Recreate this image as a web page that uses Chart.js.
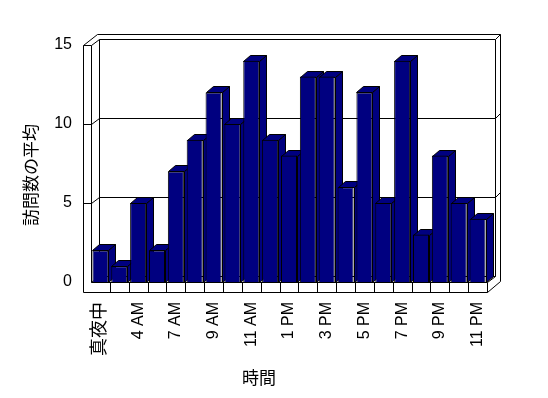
<!DOCTYPE html>
<html>
<head>
<meta charset="utf-8">
<script src="https://cdn.jsdelivr.net/npm/chart.js@4"></script>
<style>
  html, body { margin: 0; padding: 0; background: #fff; }
</style>
</head>
<body>
<canvas id="chart" width="548" height="398"></canvas>
<script>
const hours = ["真夜中", "2 AM", "4 AM", "6 AM", "7 AM", "8 AM", "9 AM", "10 AM", "11 AM", "正午",
  "1 PM", "2 PM", "3 PM", "4 PM", "5 PM", "6 PM", "7 PM", "8 PM", "9 PM", "10 PM", "11 PM"];
const visits = [2, 1, 5, 2, 7, 9, 12, 10, 14, 9, 8, 13, 13, 6, 12, 5, 14, 3, 8, 5, 4];
const yTickValues = [0, 5, 10, 15];
const xTitle = "時間";
const yTitle = "訪問数の平均";

const navy = "#000080";
const barDepth = { x: 7, y: -6 };
const backWall = { x: 8, y: -6 };
const outerWall = { x: 13, y: -11 };
const wallThick = 8;
const floorThick = 10;

function seg(ctx, x1, y1, x2, y2) {
  ctx.beginPath();
  ctx.moveTo(Math.round(x1) + 0.5, Math.round(y1) + 0.5);
  ctx.lineTo(Math.round(x2) + 0.5, Math.round(y2) + 0.5);
  ctx.stroke();
}

function poly(ctx, pts, fill) {
  ctx.beginPath();
  pts.forEach((p, i) => {
    const x = Math.round(p[0]) + 0.5, y = Math.round(p[1]) + 0.5;
    if (i === 0) ctx.moveTo(x, y); else ctx.lineTo(x, y);
  });
  ctx.closePath();
  ctx.fillStyle = fill;
  ctx.fill();
  ctx.stroke();
}

const frame3d = {
  id: "frame3d",
  beforeDatasetsDraw(chart) {
    const ctx = chart.ctx;
    const a = chart.chartArea;
    const yS = chart.scales.y;
    const L = a.left, R = a.right, T = a.top, B = a.bottom;
    ctx.save();
    ctx.strokeStyle = "#000";
    ctx.lineWidth = 1;

    // back wall (inner face + thickness)
    seg(ctx, L + backWall.x, T + backWall.y, R + backWall.x, T + backWall.y);
    seg(ctx, L - wallThick + outerWall.x + 1, T + outerWall.y, R + outerWall.x, T + outerWall.y);
    seg(ctx, R + backWall.x, T + backWall.y, R + outerWall.x, T + outerWall.y);
    seg(ctx, R + backWall.x, T + backWall.y, R + backWall.x, B + backWall.y);
    seg(ctx, R + outerWall.x, T + outerWall.y, R + outerWall.x, B + floorThick + outerWall.y);
    seg(ctx, L + backWall.x, B + backWall.y, R + backWall.x, B + backWall.y);

    // left wall
    seg(ctx, L - wallThick, T, L - wallThick, B + floorThick);
    seg(ctx, L, T, L, B);
    seg(ctx, L - wallThick, T, L, T);
    seg(ctx, L - wallThick, T, L - wallThick + outerWall.x + 1, T + outerWall.y);
    seg(ctx, L, T, L + backWall.x, T + backWall.y);
    seg(ctx, L + backWall.x, T + backWall.y, L + backWall.x, B + backWall.y);
    seg(ctx, L, B, L + backWall.x, B + backWall.y);

    // grid lines on the walls
    yTickValues.forEach(v => {
      if (v === 0 || v === 15) return;
      const py = yS.getPixelForValue(v);
      seg(ctx, L - wallThick, py, L, py);
      seg(ctx, L, py, L + backWall.x, py + backWall.y);
      seg(ctx, L + backWall.x, py + backWall.y, R + backWall.x, py + backWall.y);
      seg(ctx, R + backWall.x, py + backWall.y, R + outerWall.x, py + outerWall.y);
    });

    // bar side and top faces
    const meta = chart.getDatasetMeta(0);
    meta.data.forEach(el => {
      const p = el.getProps(["x", "y", "base", "width"], true);
      const x0 = Math.round(p.x - p.width / 2), x1 = Math.round(p.x + p.width / 2);
      const top = Math.round(p.y), bot = Math.round(p.base);
      poly(ctx, [[x1, top], [x1 + barDepth.x, top + barDepth.y],
        [x1 + barDepth.x, bot + barDepth.y], [x1, bot]], navy);
      poly(ctx, [[x0, top], [x0 + barDepth.x, top + barDepth.y],
        [x1 + barDepth.x, top + barDepth.y], [x1, top]], navy);
    });
    ctx.restore();
  },
  afterDatasetsDraw(chart) {
    const ctx = chart.ctx;
    const a = chart.chartArea;
    const L = a.left, R = a.right, B = a.bottom;
    ctx.save();
    ctx.strokeStyle = "#000";
    ctx.lineWidth = 1;
    // floor front strip
    seg(ctx, L - wallThick, B + floorThick, R, B + floorThick);
    seg(ctx, L, B, R, B);
    seg(ctx, R, B, R, B + floorThick);
    seg(ctx, R, B + floorThick, R + outerWall.x, B + floorThick + outerWall.y);
    seg(ctx, R, B, R + backWall.x, B + backWall.y);
    const w = (R - L) / hours.length;
    for (let k = 1; k < hours.length; k++) {
      seg(ctx, L + k * w, B, L + k * w, B + floorThick);
    }
    // axis titles
    ctx.fillStyle = "#000";
    ctx.font = "17px 'Noto Sans CJK JP'";
    ctx.textAlign = "center";
    ctx.textBaseline = "middle";
    ctx.fillText(xTitle, 259, 378);
    ctx.translate(31, 175);
    ctx.rotate(-Math.PI / 2);
    ctx.fillText(yTitle, 0, 0);
    ctx.restore();
  }
};

new Chart(document.getElementById("chart"), {
  type: "bar",
  data: {
    labels: hours,
    datasets: [{
      data: visits,
      backgroundColor: navy,
      borderColor: "#000",
      borderWidth: 1,
      barPercentage: 0.85,
      categoryPercentage: 1
    }]
  },
  options: {
    responsive: false,
    animation: false,
    layout: { padding: { left: 0, right: 61, top: 45, bottom: 0 } },
    plugins: { legend: { display: false }, tooltip: { enabled: false } },
    scales: {
      x: {
        grid: { display: false, drawTicks: false },
        border: { display: false },
        afterFit: s => { s.height = 116; },
        ticks: {
          autoSkip: false,
          minRotation: 90,
          maxRotation: 90,
          padding: 20,
          color: "#000",
          font: ctx => ({ family: "'Liberation Sans', 'Noto Sans CJK JP'", size: ctx.index === 0 ? 18 : 16 }),
          callback: (v, i) => (i % 2 === 0 ? hours[i] : "")
        }
      },
      y: {
        min: 0,
        max: 15,
        grid: { display: false, drawTicks: false },
        border: { display: false },
        afterFit: s => { s.width = 91; },
        afterBuildTicks: s => { s.ticks = yTickValues.map(v => ({ value: v })); },
        ticks: {
          padding: 19,
          color: "#000",
          font: { family: "'Liberation Sans'", size: 16 }
        }
      }
    }
  },
  plugins: [frame3d]
});
</script>
</body>
</html>
